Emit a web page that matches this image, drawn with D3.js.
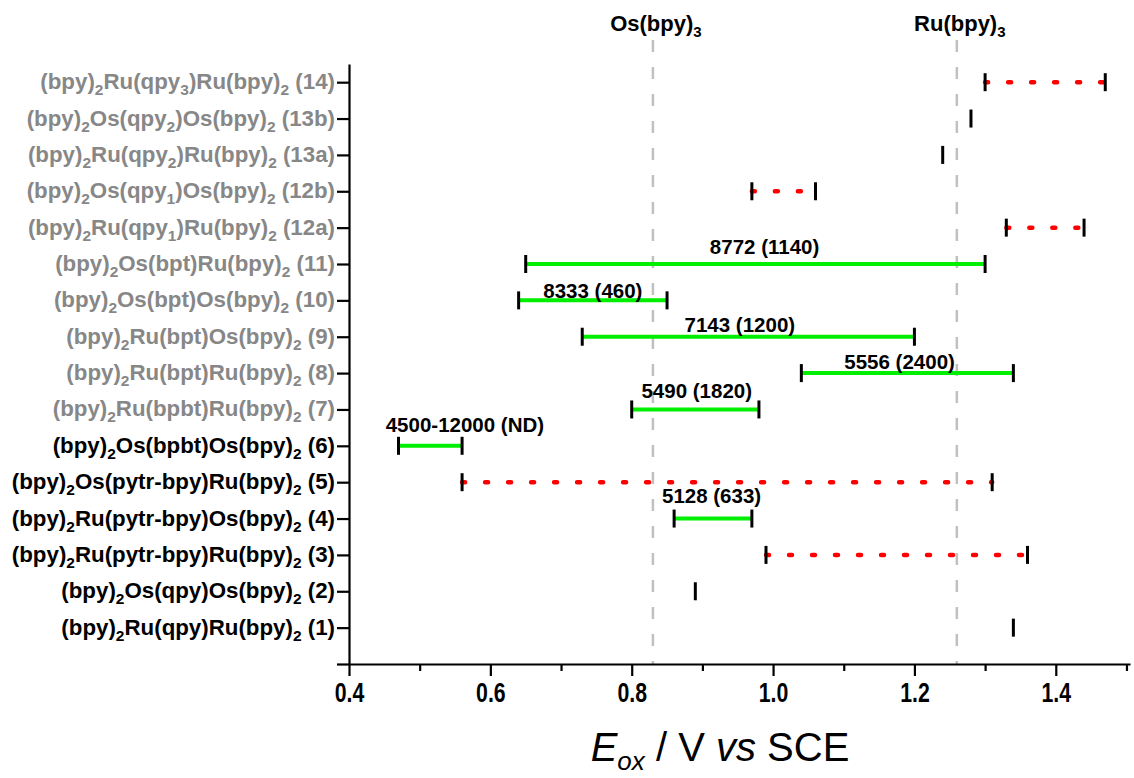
<!DOCTYPE html>
<html>
<head>
<meta charset="utf-8">
<script src="https://cdn.jsdelivr.net/npm/d3@7"></script>
<style>
  html, body { margin: 0; padding: 0; background: #fff; }
  svg { display: block; }
</style>
</head>
<body>
<svg id="chart" width="1134" height="778"></svg>
<script>
// ---------- data (bottom row first) ----------
const compounds = [
  "(bpy)_2Ru(qpy)Ru(bpy)_2 (1)",
  "(bpy)_2Os(qpy)Os(bpy)_2 (2)",
  "(bpy)_2Ru(pytr-bpy)Ru(bpy)_2 (3)",
  "(bpy)_2Ru(pytr-bpy)Os(bpy)_2 (4)",
  "(bpy)_2Os(pytr-bpy)Ru(bpy)_2 (5)",
  "(bpy)_2Os(bpbt)Os(bpy)_2 (6)",
  "(bpy)_2Ru(bpbt)Ru(bpy)_2 (7)",
  "(bpy)_2Ru(bpt)Ru(bpy)_2 (8)",
  "(bpy)_2Ru(bpt)Os(bpy)_2 (9)",
  "(bpy)_2Os(bpt)Os(bpy)_2 (10)",
  "(bpy)_2Os(bpt)Ru(bpy)_2 (11)",
  "(bpy)_2Ru(qpy_1)Ru(bpy)_2 (12a)",
  "(bpy)_2Os(qpy_1)Os(bpy)_2 (12b)",
  "(bpy)_2Ru(qpy_2)Ru(bpy)_2 (13a)",
  "(bpy)_2Os(qpy_2)Os(bpy)_2 (13b)",
  "(bpy)_2Ru(qpy_3)Ru(bpy)_2 (14)"
];
const labelGroup = ["black","black","black","black","black","black",
  "gray","gray","gray","gray","gray","gray","gray","gray","gray","gray"];
const firstOx  = [1.34, 0.89, 0.99, 0.86, 0.56, 0.47, 0.80, 1.04, 0.73, 0.64, 0.65, 1.33, 0.97, 1.24, 1.28, 1.30];
const secondOx = [null, null, 1.36, 0.97, 1.31, 0.56, 0.98, 1.34, 1.20, 0.85, 1.30, 1.44, 1.06, null, null, 1.47];
const linkType = ["none","none","dotted","solid","dotted","solid","solid","solid","solid","solid","solid","dotted","dotted","none","none","dotted"];

// annotations: row number (1-based from bottom), text, x centre (V), vertical offset (row units)
const noteRows  = [11, 10, 9, 8, 7, 6, 4];
const noteTexts = ["8772 (1140)", "8333 (460)", "7143 (1200)", "5556 (2400)", "5490 (1820)", "4500-12000 (ND)", "5128 (633)"];
const noteX     = [0.988, 0.745, 0.953, 1.179, 0.892, 0.564, 0.913];
const noteDy    = [0.47, 0.27, 0.33, 0.30, 0.50, 0.58, 0.63];

const refNames  = ["Os(bpy)_3", "Ru(bpy)_3"];
const refValues = [0.83, 1.26];

const majorTicks = [0.4, 0.6, 0.8, 1.0, 1.2, 1.4];
const minorTicks = [0.5, 0.7, 0.9, 1.1, 1.3, 1.5];

// ---------- layout ----------
const svg = d3.select("#chart");
const x = d3.scaleLinear().domain([0.4, 1.505]).range([349, 1130]);
const y = d3.scaleLinear().domain([0, 16.5]).range([664, 64]);
const FONT = "Arial, 'Liberation Sans', sans-serif";

function richText(sel, str, subSize, subShift) {
  const parts = str.split(/_(\S)/);
  let shifted = false;
  parts.forEach((p, i) => {
    if (p === "") return;
    const ts = sel.append("tspan").text(p);
    if (i % 2 === 1) {
      ts.attr("dy", subShift).attr("font-size", subSize);
      shifted = true;
    } else if (shifted) {
      ts.attr("dy", -subShift);
      shifted = false;
    }
  });
}

// reference dashed lines
refValues.forEach((v, i) => {
  svg.append("line")
    .attr("x1", x(v)).attr("x2", x(v))
    .attr("y1", 40).attr("y2", y(0))
    .attr("stroke", "#c0c0c0").attr("stroke-width", 2.5)
    .attr("stroke-dasharray", "12,15");
  const t = svg.append("text")
    .attr("x", x(v) + 3).attr("y", 31)
    .attr("text-anchor", "middle")
    .attr("font-family", FONT).attr("font-weight", "bold")
    .attr("font-size", 22).attr("fill", "#000");
  richText(t, refNames[i], 15, 6);
});

// axes
const xAxis = svg.append("g").attr("transform", `translate(0,${y(0)})`)
  .call(d3.axisBottom(x).tickValues(majorTicks).tickSize(12).tickSizeOuter(0)
        .tickFormat(d3.format(".1f")));
const xMinor = svg.append("g").attr("transform", `translate(0,${y(0)})`)
  .call(d3.axisBottom(x).tickValues(minorTicks).tickSize(7).tickSizeOuter(0).tickFormat(""));
xMinor.select(".domain").remove();
[xAxis, xMinor].forEach(g => {
  g.selectAll("line").attr("stroke", "#000").attr("stroke-width", 2.2);
  g.selectAll(".domain").attr("stroke", "#000").attr("stroke-width", 2.2);
});
xAxis.selectAll("text")
  .attr("font-family", FONT).attr("font-weight", "bold")
  .attr("font-size", 28).attr("fill", "#000")
  .attr("y", 0).attr("dy", 0)
  .attr("transform", "translate(0,38) scale(0.76,1)");

const rows = d3.range(1, compounds.length + 1);
const yAxis = svg.append("g").attr("transform", `translate(${x(0.4)},0)`)
  .call(d3.axisLeft(y).tickValues([0].concat(rows)).tickSize(12).tickSizeOuter(0).tickFormat(""));
yAxis.selectAll("line").attr("stroke", "#000").attr("stroke-width", 2.2);
yAxis.select(".domain").attr("stroke", "#000").attr("stroke-width", 2.2);

// row labels
rows.forEach((r, i) => {
  const t = svg.append("text")
    .attr("x", 335).attr("y", y(r) + 7)
    .attr("text-anchor", "end")
    .attr("font-family", FONT).attr("font-weight", "bold")
    .attr("font-size", 22.3)
    .attr("fill", labelGroup[i] === "gray" ? "#878787" : "#000");
  richText(t, compounds[i], 15.5, 6);
});

// links
rows.forEach((r, i) => {
  if (linkType[i] === "none") return;
  const a = firstOx[i], b = secondOx[i];
  const ln = svg.append("line")
    .attr("x1", x(a)).attr("x2", x(b))
    .attr("y1", y(r)).attr("y2", y(r));
  if (linkType[i] === "solid") {
    ln.attr("stroke", "#00ee00").attr("stroke-width", 4);
  } else {
    ln.attr("stroke", "#ff0000").attr("stroke-width", 4.5)
      .attr("stroke-linecap", "round")
      .attr("stroke-dasharray", "3,20");
  }
});

// potential ticks
rows.forEach((r, i) => {
  [firstOx[i], secondOx[i]].forEach(v => {
    if (v == null) return;
    svg.append("line")
      .attr("x1", x(v)).attr("x2", x(v))
      .attr("y1", y(r) - 9).attr("y2", y(r) + 9)
      .attr("stroke", "#000").attr("stroke-width", 3);
  });
});

// annotations
noteRows.forEach((r, i) => {
  svg.append("text")
    .attr("x", x(noteX[i])).attr("y", y(r + noteDy[i]) + 7)
    .attr("text-anchor", "middle")
    .attr("font-family", FONT).attr("font-weight", "bold")
    .attr("font-size", 20.5).attr("fill", "#000")
    .text(noteTexts[i]);
});

// x axis title
const title = svg.append("text")
  .attr("x", 720).attr("y", 761)
  .attr("text-anchor", "middle")
  .attr("font-family", FONT).attr("font-size", 40).attr("fill", "#000");
title.append("tspan").attr("font-style", "italic").text("E");
title.append("tspan").attr("font-style", "italic").attr("font-size", 26).attr("dy", 9).text("ox");
title.append("tspan").attr("dy", -9).text(" / V ");
title.append("tspan").attr("font-style", "italic").text("vs");
title.append("tspan").text(" SCE");
</script>
</body>
</html>
